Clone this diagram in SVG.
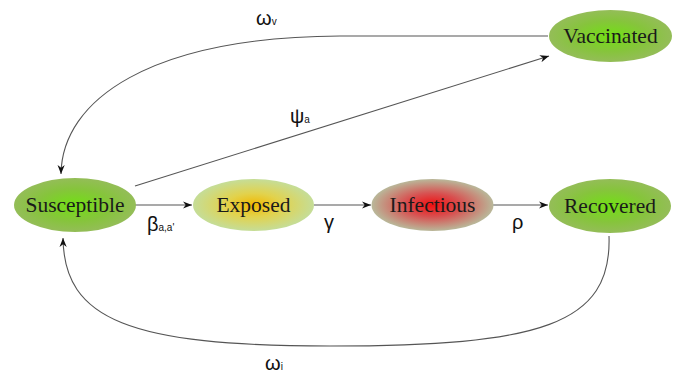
<svg xmlns="http://www.w3.org/2000/svg" width="678" height="378" viewBox="0 0 678 378">
<style>
.node text{font-family:"Liberation Serif","Times New Roman",serif;font-size:21.5px;fill:#1a1a1a;text-anchor:middle}
.conn path{fill:none;stroke:#555;stroke-width:1.1}
.lbl{font-family:"Liberation Sans",Arial,sans-serif;fill:#111}
.sub{font-size:10px}
</style>
<defs>
<radialGradient id="gGreen" cx="50%" cy="50%" r="50%">
<stop offset="0" stop-color="#72e014"/>
<stop offset="0.6" stop-color="#86c43c"/>
<stop offset="1" stop-color="#94bd58"/>
</radialGradient>
<radialGradient id="gYellow" cx="50%" cy="50%" r="50%">
<stop offset="0" stop-color="#f2b800"/>
<stop offset="0.45" stop-color="#e2d24c"/>
<stop offset="1" stop-color="#c5dd98"/>
</radialGradient>
<radialGradient id="gRed" cx="50%" cy="50%" r="50%">
<stop offset="0" stop-color="#f01010"/>
<stop offset="0.45" stop-color="#d85050"/>
<stop offset="1" stop-color="#b9b89a"/>
</radialGradient>
<marker id="arr" viewBox="0 0 10 10" refX="10" refY="5" markerWidth="9" markerHeight="9" markerUnits="userSpaceOnUse" orient="auto">
<path d="M0,1 L10,5 L0,9 L3,5 Z" fill="#111"/>
</marker>
</defs>
<g id="connectors" class="conn">
<path d="M135,205 L192,205" marker-end="url(#arr)"/>
<path d="M314,205 L371,205" marker-end="url(#arr)"/>
<path d="M493,205 L548,205" marker-end="url(#arr)"/>
<path d="M135,186 L549,56" marker-end="url(#arr)"/>
<path d="M548,36 L340,36 C150,37 62,100 61,174" marker-end="url(#arr)"/>
<path d="M609,236 C612,325 540,346 330,346 C130,346 64,320 63,238" marker-end="url(#arr)"/>
</g>
<g id="labels" class="lbl">
<text x="256" y="25" font-size="20">ω<tspan class="sub">v</tspan></text>
<text x="290" y="123" font-size="20">ψ<tspan class="sub">a</tspan></text>
<text x="147" y="231" font-size="20">β<tspan class="sub">a,a'</tspan></text>
<text x="324" y="229" font-size="20">γ</text>
<text x="512" y="229" font-size="20">ρ</text>
<text x="265" y="370" font-size="20">ω<tspan class="sub">i</tspan></text>
</g>
<g id="susceptible" class="node">
<ellipse cx="75" cy="205" rx="61" ry="27" fill="url(#gGreen)"/>
<text x="75" y="212">Susceptible</text>
</g>
<g id="exposed" class="node">
<ellipse cx="253.5" cy="205" rx="60.5" ry="26" fill="url(#gYellow)"/>
<text x="253.5" y="212">Exposed</text>
</g>
<g id="infectious" class="node">
<ellipse cx="432.5" cy="205" rx="61" ry="26" fill="url(#gRed)"/>
<text x="432.5" y="212">Infectious</text>
</g>
<g id="recovered" class="node">
<ellipse cx="610" cy="206" rx="61" ry="27" fill="url(#gGreen)"/>
<text x="610" y="213">Recovered</text>
</g>
<g id="vaccinated" class="node">
<ellipse cx="610.5" cy="36" rx="61.5" ry="26" fill="url(#gGreen)"/>
<text x="610.5" y="43">Vaccinated</text>
</g>
</svg>
